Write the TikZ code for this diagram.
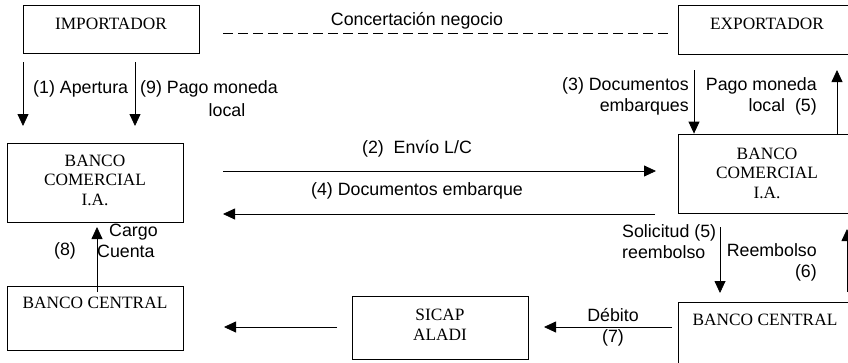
\documentclass[tikz,border=0pt]{standalone}
\usepackage{fontspec}
\setmainfont{Liberation Serif}
\newfontfamily\arialf{Liberation Sans}
\usetikzlibrary{arrows.meta}
\begin{document}
\begin{tikzpicture}[x=1pt,y=-1pt,
  box/.style={draw,line width=0.8pt,inner sep=0pt},
  btext/.style={font=\fontsize{17.3}{19.5}\selectfont,align=center,inner sep=0pt},
  lbl/.style={font=\arialf\fontsize{17.8}{21}\selectfont,inner sep=0pt},
  arr/.style={line width=0.8pt,-{Triangle[length=12pt,width=11pt]}},
  dashline/.style={line width=0.8pt,dash pattern=on 10pt off 5pt}]
\useasboundingbox (0,0) rectangle (848,362);
% boxes
\node[box,minimum width=176pt,minimum height=48pt] (imp) at (111,29) {};
\node[box,minimum width=172pt,minimum height=49pt] (exp) at (764,29.5) {};
\node[box,minimum width=176pt,minimum height=79pt] (bcl) at (95,182.5) {};
\node[box,minimum width=172pt,minimum height=79pt] (bcr) at (764,173.5) {};
\node[box,minimum width=176pt,minimum height=64pt] (cbl) at (95,318) {};
\node[box,minimum width=172pt,minimum height=68pt] (cbr) at (764,336) {};
\node[box,minimum width=176pt,minimum height=63pt] (sic) at (440,327.5) {};
% box texts
\node[btext] (timp) at (111,24) {IMPORTADOR};
\node[btext] (texp) at (767,24) {EXPORTADOR};
\node[btext] (tbcl) at (95,180) {BANCO\\COMERCIAL\\I.A.};
\node[btext] (tbcr) at (767,173) {BANCO\\COMERCIAL\\I.A.};
\node[btext] (tcbl) at (95,303) {BANCO CENTRAL};
\node[btext] (tcbr) at (765,320) {BANCO CENTRAL};
\node[btext] (tsic) at (440,325) {SICAP\\ALADI};
% dashed line
\coordinate (d1) at (223,33);
\coordinate (d2) at (668,33);
\draw[dashline] (d1) -- (d2);
\node[lbl] (conc) at (417,21) {Concertación negocio};
% importador arrows
\coordinate (a1s) at (23,62); \coordinate (a1e) at (23,126);
\coordinate (a9s) at (135,62); \coordinate (a9e) at (135,126);
\draw[arr] (a1s) -- (a1e);
\draw[arr] (a9s) -- (a9e);
\node[lbl,anchor=west] (l1) at (33,89) {(1) Apertura};
\node[lbl,anchor=west] (l9) at (140,89) {(9) Pago moneda};
\node[lbl] (l9b) at (227,110) {local};
% horizontal arrows
\coordinate (h2s) at (223,171); \coordinate (h2e) at (656,171);
\coordinate (h4s) at (655,214); \coordinate (h4e) at (223,214);
\draw[arr] (h2s) -- (h2e);
\draw[arr] (h4s) -- (h4e);
\node[lbl] (l2) at (417,149) {(2)\ \ Envío L/C};
\node[lbl] (l4) at (417,191) {(4) Documentos embarque};
% exporter side arrows
\coordinate (a3s) at (694,70);
\draw[arr] (a3s) -- (a3s |- bcr.north);
\coordinate (a5e) at (837,70);
\draw[arr] (a5e |- bcr.north) -- (a5e);
\node[lbl,anchor=east,align=right] (l3) at (689,96.5) {(3) Documentos\\embarques};
\node[lbl,anchor=east,align=right] (l5) at (817,96.5) {Pago moneda\\local\ \ (5)};
% reembolso
\coordinate (r5s) at (720,227); \coordinate (r5e) at (720,293);
\draw[arr] (r5s) -- (r5e);
\coordinate (r6s) at (847,292); \coordinate (r6e) at (847,229);
\draw[arr] (r6s) -- (r6e);
\node[lbl,anchor=west,align=left] (ls) at (622,242) {Solicitud (5)\\reembolso};
\node[lbl,anchor=east,align=right] (lr) at (817,262.5) {Reembolso\\(6)};
% debito
\coordinate (d7s) at (672,327); \coordinate (d7e) at (544,327);
\draw[arr] (d7s) -- (d7e);
\node[lbl] (ld) at (613,315) {Débito};
\node[lbl] (l7) at (613,338) {(7)};
\coordinate (ssx) at (337,327); \coordinate (sse) at (224,327);
\draw[arr] (ssx) -- (sse);
% cargo cuenta
\coordinate (c8s) at (97,292); \coordinate (c8e) at (97,227);
\draw[arr] (c8s) -- (c8e);
\node[lbl,anchor=west] (lc1) at (109,232) {Cargo};
\node[lbl,anchor=west] (lc2) at (97,251) {Cuenta};
\node[lbl] (l8) at (65,251) {(8)};
\end{tikzpicture}
\end{document}
